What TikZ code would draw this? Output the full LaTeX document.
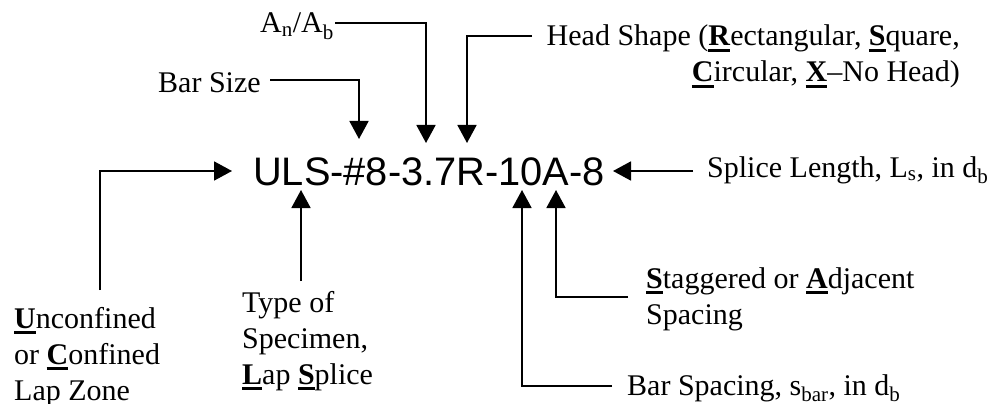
\documentclass[tikz,border=0pt]{standalone}
\usepackage{fontspec}
\setmainfont{Liberation Serif}
\newfontfamily\codefont{Liberation Sans}
\usetikzlibrary{arrows.meta}
% bold initial letter with a heavy underline
\newcommand\keyletter[1]{\setbox0\hbox{\textbf{#1}}\rlap{\rule[-6pt]{\wd0}{3pt}}\box0}
\tikzset{
  lbl/.style={inner sep=0pt, anchor=base west, font=\fontsize{30}{36}\selectfont},
  conn/.style={line width=1.8pt, -{Triangle[length=18pt,width=19pt]}},
}
\begin{document}
\begin{tikzpicture}[x=1pt,y=-1pt]
\useasboundingbox (0,0) rectangle (989,404);

% specimen designation
\node[inner sep=0pt, anchor=base west, font=\codefont\fontsize{39.8}{46}\selectfont]
  (code) at (253,185) {ULS-\#8-3.7R-10A-8};

% labels
\node[lbl] (barsize) at (158,93) {Bar Size};
\node[lbl] (area) at (260,33) {A\textsubscript{n}/A\textsubscript{b}};
\node[lbl, anchor=base east] (head) at (960,46)
  {\begin{tabular}[t]{@{}r@{}}Head Shape (\keyletter{R}ectangular, \keyletter{S}quare,\\
   \keyletter{C}ircular, \keyletter{X}--No Head)\end{tabular}};
\node[lbl] (splice) at (707,177) {Splice Length, L\textsubscript{s}, in d\textsubscript{b}};
\node[lbl] (conf) at (14,328)
  {\begin{tabular}[t]{@{}l@{}}\keyletter{U}nconfined\\ or \keyletter{C}onfined\\ Lap Zone\end{tabular}};
\node[lbl] (type) at (242,312)
  {\begin{tabular}[t]{@{}l@{}}Type of\\ Specimen,\\ \keyletter{L}ap \keyletter{S}plice\end{tabular}};
\node[lbl] (stag) at (646,288)
  {\begin{tabular}[t]{@{}l@{}}\keyletter{S}taggered or \keyletter{A}djacent\\ Spacing\end{tabular}};
\node[lbl] (spacing) at (627,395) {Bar Spacing, s\textsubscript{bar}, in d\textsubscript{b}};

% connector ends
\coordinate (confS) at (100,290);
\coordinate (confT) at (232,171);
\coordinate (barS) at (270,80);
\coordinate (barT) at (359,139);
\coordinate (areaS) at (335,23);
\coordinate (areaT) at (426,143);
\coordinate (headS) at (532,36);
\coordinate (headT) at (467,143);
\coordinate (spliceS) at (693,171);
\coordinate (spliceT) at (613,171);
\coordinate (typeS) at (301,281);
\coordinate (typeT) at (301,190);
\coordinate (spcS) at (612,386);
\coordinate (spcT) at (522,190);
\coordinate (stagS) at (628,297);
\coordinate (stagT) at (556,190);

% connectors
\draw[conn] (confS) |- (confT);
\draw[conn] (barS) -| (barT);
\draw[conn] (areaS) -| (areaT);
\draw[conn] (headS) -| (headT);
\draw[conn] (spliceS) -- (spliceT);
\draw[conn] (typeS) -- (typeT);
\draw[conn] (spcS) -| (spcT);
\draw[conn] (stagS) -| (stagT);
\end{tikzpicture}
\end{document}
